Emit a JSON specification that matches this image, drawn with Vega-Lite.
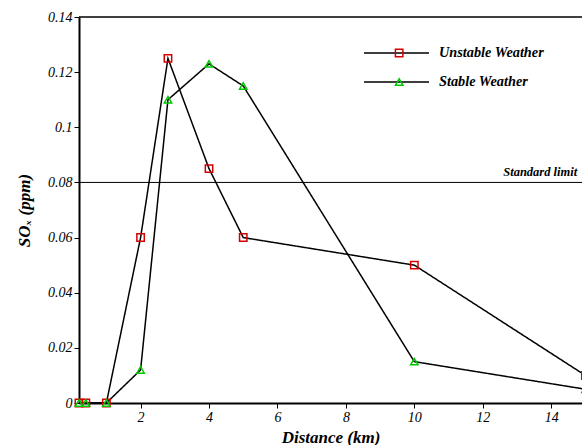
{
  "$schema": "https://vega.github.io/schema/vega-lite/v6.json",
  "autosize": {"type": "none"},
  "padding": {"left": 79, "top": 17, "right": 0, "bottom": 42},
  "width": 503,
  "height": 386,
  "config": {
    "view": {"stroke": null},
    "font": "Liberation Serif",
    "axis": {
      "domainColor": "black", "domainWidth": 2, "tickColor": "black", "tickWidth": 1, "tickSize": 5,
      "labelColor": "black", "labelFont": "Liberation Serif", "labelFontStyle": "italic", "labelFontSize": 14,
      "titleColor": "black", "titleFont": "Liberation Serif", "titleFontStyle": "italic", "titleFontWeight": "bold", "titleFontSize": 17,
      "grid": false, "labelOverlap": false
    },
    "legend": {
      "labelFont": "Liberation Serif", "labelFontStyle": "italic", "labelFontWeight": "bold", "labelFontSize": 14.3, "labelColor": "black", "padding": 0
    }
  },
  "data": {
    "values": [
      {"series": "Unstable Weather", "distance": 0.2, "sox": 0},
      {"series": "Unstable Weather", "distance": 0.4, "sox": 0},
      {"series": "Unstable Weather", "distance": 1, "sox": 0},
      {"series": "Unstable Weather", "distance": 2, "sox": 0.06},
      {"series": "Unstable Weather", "distance": 2.8, "sox": 0.125},
      {"series": "Unstable Weather", "distance": 4, "sox": 0.085},
      {"series": "Unstable Weather", "distance": 5, "sox": 0.06},
      {"series": "Unstable Weather", "distance": 10, "sox": 0.05},
      {"series": "Unstable Weather", "distance": 15, "sox": 0.01},
      {"series": "Stable Weather", "distance": 0.2, "sox": 0},
      {"series": "Stable Weather", "distance": 0.4, "sox": 0},
      {"series": "Stable Weather", "distance": 1, "sox": 0},
      {"series": "Stable Weather", "distance": 2, "sox": 0.012},
      {"series": "Stable Weather", "distance": 2.8, "sox": 0.11},
      {"series": "Stable Weather", "distance": 4, "sox": 0.123},
      {"series": "Stable Weather", "distance": 5, "sox": 0.115},
      {"series": "Stable Weather", "distance": 10, "sox": 0.015},
      {"series": "Stable Weather", "distance": 15, "sox": 0.005}
    ]
  },
  "layer": [
    {
      "mark": {"type": "line", "color": "black", "strokeWidth": 1.5, "clip": false},
      "encoding": {
        "x": {
          "field": "distance", "type": "quantitative",
          "scale": {"domain": [0.2, 14.9], "nice": false, "zero": false},
          "axis": {
            "title": "Distance (km)", "values": [2,4,6,8,10,12,14], "format": "d",
            "labelPadding": 2, "titlePadding": 5, "labelOverlap": false, "labelFlush": false
          }
        },
        "y": {
          "field": "sox", "type": "quantitative",
          "scale": {"domain": [0, 0.14], "nice": false},
          "axis": {
            "title": "SOₓ  (ppm)",
            "values": [0,0.01,0.02,0.03,0.04,0.05,0.06,0.07,0.08,0.09,0.1,0.11,0.12,0.13,0.14],
            "format": ".2~f", "labelExpr": "round(datum.value * 100) % 2 == 0 ? datum.label : ''",
            "labelPadding": 2, "titlePadding": 14, "labelOverlap": false
          }
        },
        "strokeDash": {
          "field": "series", "type": "nominal",
          "scale": {"domain": ["Unstable Weather", "Stable Weather"], "range": [[1, 0], [1, 0]]},
          "legend": {
            "title": null, "orient": "none", "legendX": 284, "legendY": 29,
            "symbolType": "stroke", "symbolSize": 4225, "symbolStrokeColor": "black", "symbolStrokeWidth": 1.5,
            "labelOffset": 9, "rowPadding": 14, "clipHeight": 14
          }
        }
      }
    },
    {
      "data": {"values": [{}]},
      "mark": {"type": "rule", "color": "black", "strokeWidth": 1.5},
      "encoding": {"y": {"datum": 0.14, "type": "quantitative"}}
    },
    {
      "data": {"values": [{}]},
      "mark": {"type": "rule", "color": "black", "strokeWidth": 1},
      "encoding": {"y": {"datum": 0.08, "type": "quantitative"}}
    },
    {
      "data": {"values": [{}]},
      "mark": {"type": "text", "text": "Standard limit", "align": "right", "baseline": "bottom", "dy": -3, "font": "Liberation Serif", "fontStyle": "italic", "fontWeight": "bold", "fontSize": 12.5, "color": "black"},
      "encoding": {"x": {"datum": 14.76, "type": "quantitative"}, "y": {"datum": 0.08, "type": "quantitative"}}
    },
    {
      "mark": {"type": "point", "filled": false, "strokeWidth": 1.5, "size": 55, "clip": false, "opacity": 1},
      "encoding": {
        "x": {"field": "distance", "type": "quantitative"},
        "y": {"field": "sox", "type": "quantitative"},
        "color": {
          "field": "series", "type": "nominal", "sort": "descending",
          "scale": {"range": ["#d40000", "#00c800"]},
          "legend": {
            "title": null, "orient": "none", "legendX": 313, "legendY": 29,
            "labelExpr": "''", "symbolSize": 55, "symbolStrokeWidth": 1.5, "rowPadding": 14, "clipHeight": 14,
            "symbolFillColor": "white", "symbolOpacity": 1, "labelOffset": 0
          }
        },
        "shape": {
          "field": "series", "type": "nominal", "sort": "descending",
          "scale": {"range": ["square", "triangle-up"]}
        }
      }
    }
  ]
}
